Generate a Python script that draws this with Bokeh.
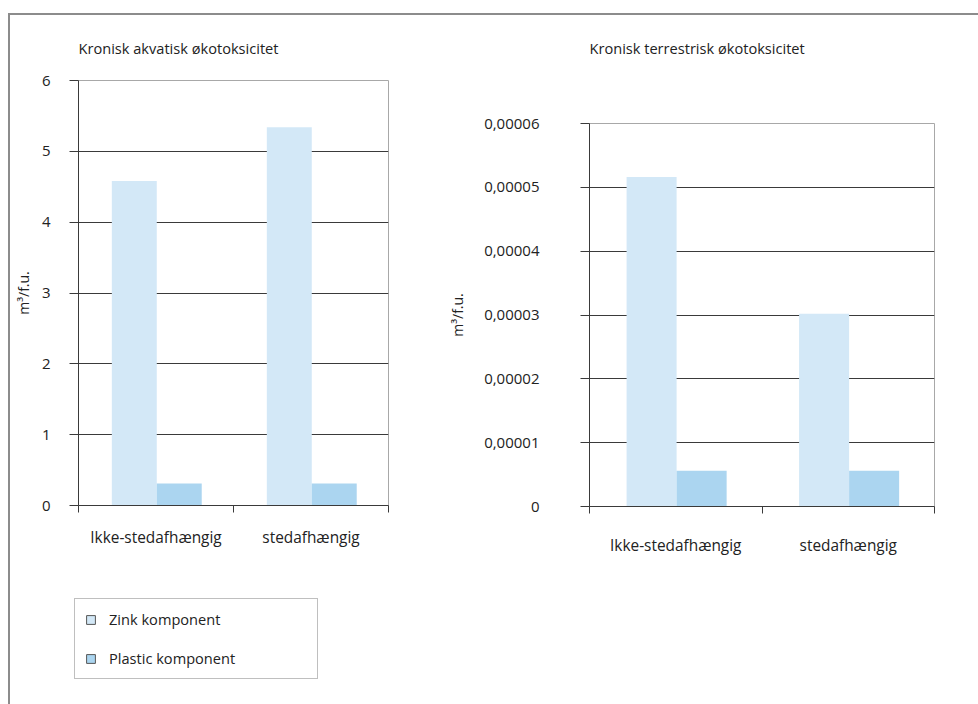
from bokeh.plotting import figure
from bokeh.models import (Range1d, FixedTicker, LinearAxis, Legend, LegendItem,
                          Spacer, ColumnDataSource)
from bokeh.layouts import row, column
from bokeh.embed import file_html
from bokeh.resources import INLINE

# ---------------- data ----------------
categories = ["Ikke-stedafhængig", "stedafhængig"]
series_names = ["Zink komponent", "Plastic komponent"]
series_colors = ["#d3e8f7", "#abd5f0"]

aquatic_title = "Kronisk akvatisk økotoksicitet"
aquatic_zink = [4.58, 5.34]
aquatic_plastic = [0.31, 0.31]
aquatic_ticks = [0, 1, 2, 3, 4, 5, 6]
aquatic_tick_labels = ["0", "1", "2", "3", "4", "5", "6"]

terrestrial_title = "Kronisk terrestrisk økotoksicitet"
terrestrial_zink = [0.0000516, 0.0000302]
terrestrial_plastic = [0.0000056, 0.0000056]
terrestrial_ticks = [0, 0.00001, 0.00002, 0.00003, 0.00004, 0.00005, 0.00006]
terrestrial_tick_labels = ["0", "0,00001", "0,00002", "0,00003", "0,00004",
                           "0,00005", "0,00006"]

y_label = "m³/f.u."

FONT = "Open Sans"
TXT = "#222222"
DARK = "#3a3a3a"


def make_title_fig(text, width, height, mbl, mbr):
    t = figure(width=width, height=height, x_axis_type=None, y_axis_type=None,
               x_range=Range1d(0, 1), y_range=Range1d(0, 1),
               output_backend="svg", toolbar_location=None,
               min_border_left=mbl, min_border_right=mbr,
               min_border_top=44, min_border_bottom=0)
    t.outline_line_color = None
    t.grid.visible = False
    t.title.text = text
    t.title.align = "left"
    t.title.offset = 0
    t.title.standoff = 4
    t.title.text_font = FONT
    t.title.text_font_size = "14.6px"
    t.title.text_font_style = "normal"
    t.title.text_color = TXT
    return t


def make_chart(zink, plastic, ticks, tick_labels, width, height, mbl, mbr, mbt, mbb,
               tick_standoff, ylab_standoff, cat_standoff):
    n = len(categories)
    p = figure(width=width, height=height, x_range=Range1d(0, n),
               y_range=Range1d(ticks[0], ticks[-1]), title=None,
               output_backend="svg", toolbar_location=None,
               min_border_left=mbl, min_border_right=mbr,
               min_border_top=mbt, min_border_bottom=mbb)
    p.outline_line_color = "#a8a8a8"
    p.background_fill_color = "white"
    p.border_fill_color = "white"

    bw = 0.29
    gc = 0.505
    src = ColumnDataSource(dict(
        xz=[i + gc - bw / 2 for i in range(n)],
        xp=[i + gc + bw / 2 for i in range(n)],
        zink=zink, plastic=plastic))
    p.vbar(x="xz", top="zink", width=bw, source=src,
           fill_color=series_colors[0], line_color=None)
    p.vbar(x="xp", top="plastic", width=bw, source=src,
           fill_color=series_colors[1], line_color=None)

    # y axis
    ya = p.yaxis[0]
    ya.ticker = FixedTicker(ticks=ticks)
    ya.major_label_overrides = dict(zip(ticks, tick_labels))
    ya.major_tick_out = 9
    ya.major_tick_in = 0
    ya.minor_tick_line_color = None
    ya.axis_line_color = DARK
    ya.major_tick_line_color = DARK
    ya.major_label_text_font = FONT
    ya.major_label_text_font_size = "15px"
    ya.major_label_text_color = TXT
    ya.major_label_standoff = tick_standoff
    ya.axis_label = y_label
    ya.axis_label_text_font = FONT
    ya.axis_label_text_font_size = "14px"
    ya.axis_label_text_font_style = "normal"
    ya.axis_label_text_color = TXT
    ya.axis_label_standoff = ylab_standoff

    p.ygrid.ticker = FixedTicker(ticks=ticks[1:-1])
    p.ygrid.grid_line_color = DARK
    p.xgrid.visible = False

    # x axis: tick marks at category boundaries (no labels)
    bounds = list(range(n + 1))
    xa = p.xaxis[0]
    xa.ticker = FixedTicker(ticks=bounds)
    xa.major_label_overrides = {b: "" for b in bounds}
    xa.major_tick_out = 7
    xa.major_tick_in = 0
    xa.minor_tick_line_color = None
    xa.axis_line_color = DARK
    xa.major_tick_line_color = DARK
    xa.major_label_text_font = FONT
    xa.major_label_text_font_size = "14px"
    xa.major_label_standoff = 0

    # category labels at category centres
    centers = [i + 0.5 for i in range(n)]
    la = LinearAxis(ticker=FixedTicker(ticks=centers),
                    major_label_overrides=dict(zip(centers, categories)),
                    major_tick_out=0, major_tick_in=0,
                    minor_tick_line_color=None, axis_line_color=None,
                    major_tick_line_color=None,
                    major_label_text_font=FONT, major_label_text_font_size="15.4px",
                    major_label_text_color=TXT, major_label_standoff=cat_standoff)
    p.add_layout(la, "below")
    return p


t1 = make_title_fig(aquatic_title, 430, 55, 67, 52)
p1 = make_chart(aquatic_zink, aquatic_plastic, aquatic_ticks, aquatic_tick_labels,
                width=430, height=510, mbl=67, mbr=52, mbt=10, mbb=75,
                tick_standoff=19, ylab_standoff=6, cat_standoff=14)

t2 = make_title_fig(terrestrial_title, 538, 98, 149, 44)
p2 = make_chart(terrestrial_zink, terrestrial_plastic, terrestrial_ticks,
                terrestrial_tick_labels,
                width=538, height=591, mbl=149, mbr=44, mbt=10, mbb=198,
                tick_standoff=41, ylab_standoff=14, cat_standoff=21)

# legend panel (its own small canvas below the left chart); the legend proxies
# sit outside this panel's visible range so only their legend swatches show
lf = figure(width=430, height=124, output_backend="svg", toolbar_location=None,
            x_axis_type=None, y_axis_type=None, x_range=Range1d(0, 1),
            y_range=Range1d(0, 1), min_border=0)
lf.outline_line_color = None
lf.grid.visible = False
proxy = ColumnDataSource(dict(l=[-3], r=[-2], t=[-2], b=[-3]))
lz = lf.quad(left="l", right="r", top="t", bottom="b", source=proxy,
             fill_color=series_colors[0], line_color="#555555")
lp = lf.quad(left="l", right="r", top="t", bottom="b", source=proxy,
             fill_color=series_colors[1], line_color="#555555")
legend = Legend(items=[LegendItem(label=series_names[0], renderers=[lz]),
                       LegendItem(label=series_names[1], renderers=[lp])],
                location=(64, 25), orientation="vertical",
                glyph_width=11, glyph_height=11, label_height=20,
                label_width=198, label_standoff=13, spacing=19, padding=10,
                margin=0,
                label_text_font=FONT, label_text_font_size="14.6px",
                label_text_color=TXT,
                border_line_color="#808080", border_line_width=1,
                background_fill_color="white", background_fill_alpha=1)
lf.add_layout(legend, "center")

GRAY = {"background-color": "#8c8c8c"}
left_col = column(t1, p1, column(lf))
right_col = column(t2, p2)
layout = column(
    Spacer(width=978, height=13),
    row(Spacer(width=8, height=2), Spacer(width=970, height=2, styles=GRAY)),
    row(Spacer(width=8, height=689), Spacer(width=2, height=689, styles=GRAY),
        left_col, right_col),
)

open("out.html", "w").write(file_html(layout, INLINE))
